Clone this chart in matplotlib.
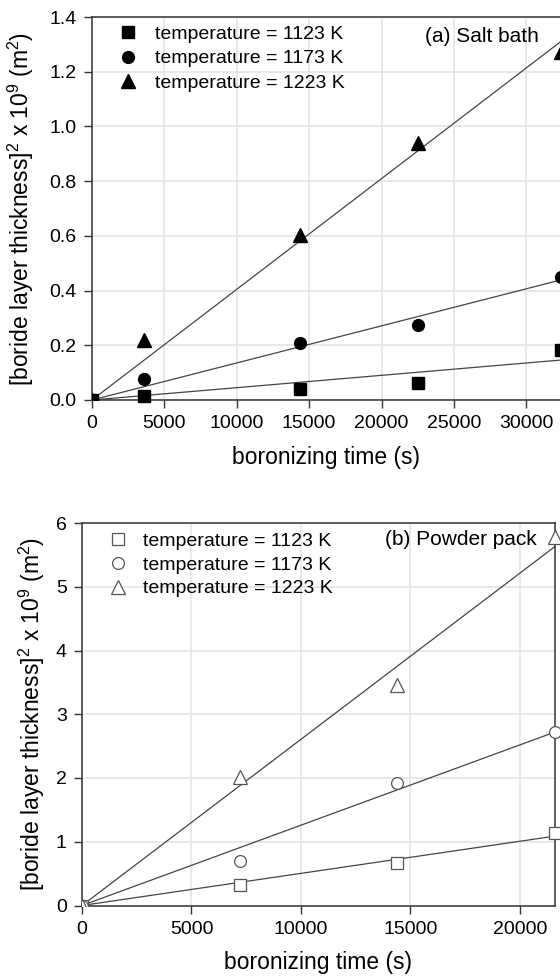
import numpy as np
import matplotlib
matplotlib.use("Agg")
import matplotlib.pyplot as plt
from matplotlib.ticker import FormatStrFormatter, MultipleLocator

plt.rcParams['font.family'] = ['Liberation Sans', 'DejaVu Sans']
plt.rcParams['mathtext.fontset'] = 'custom'
plt.rcParams['mathtext.rm'] = 'Liberation Sans'
plt.rcParams['font.size'] = 14

# (a) salt bath: time (s) vs squared layer thickness x 1e9 (m^2)
salt_time = [0, 3600, 14400, 22500, 32400]
salt_1123 = [0, 0.016, 0.042, 0.063, 0.183]
salt_1173 = [0, 0.078, 0.209, 0.274, 0.451]
salt_1223 = [0, 0.221, 0.604, 0.939, 1.273]

# (b) powder pack
pack_time = [0, 7200, 14400, 21600]
pack_1123 = [0, 0.32, 0.67, 1.14]
pack_1173 = [0, 0.70, 1.92, 2.72]
pack_1223 = [0, 2.02, 3.46, 5.78]

labels = ['temperature = 1123 K', 'temperature = 1173 K', 'temperature = 1223 K']
markers = ['s', 'o', '^']
msizes = [8, 8.5, 10]

ylab = r'[boride layer thickness]$^\mathregular{2}$ x 10$^\mathregular{9}$ (m$^\mathregular{2}$)'
line_c = '#444444'
grid_c = '#e4e4e4'

fig = plt.figure(figsize=(5.6, 9.76), dpi=100)
ax1 = fig.add_axes([92 / 560, 1 - 400 / 976, 469 / 560, 383 / 976])
ax2 = fig.add_axes([82 / 560, 1 - 905.5 / 976, 473 / 560, 382.5 / 976])


def panel(ax, t, series, xmax, filled, xpad):
    t = np.array(t, dtype=float)
    handles = []
    for y, m, ms, lab in zip(series, markers, msizes, labels):
        y = np.array(y, dtype=float)
        # least squares line through the origin
        k = np.sum(t * y) / np.sum(t * t)
        xx = np.array([0, xmax])
        ax.plot(xx, k * xx, color=line_c, lw=0.9, zorder=2)
        if filled:
            kw = dict(color='black', mec='black')
        else:
            kw = dict(mfc='white', mec='#555555', mew=0.9)
        ax.plot(t[:1], y[:1], ls='none', marker=m, ms=ms, zorder=3, **kw)
        h, = ax.plot(t[1:], y[1:], ls='none', marker=m, ms=ms, zorder=3,
                     clip_on=False, label=lab, **kw)
        handles.append(h)
    ax.grid(True, color=grid_c, lw=1.2)
    ax.set_axisbelow(True)
    ax.tick_params(direction='out', length=6, width=1, color='#333333', pad=5)
    for s in ax.spines.values():
        s.set_linewidth(1.1)
        s.set_color('#333333')
    ax.set_xlabel('boronizing time (s)', fontsize=16.5, labelpad=xpad)
    return handles


h1 = panel(ax1, salt_time, [salt_1123, salt_1173, salt_1223], 32400, True, 10)
ax1.set_xlim(0, 32400)
ax1.set_ylim(0, 1.4)
ax1.xaxis.set_major_locator(MultipleLocator(5000))
ax1.yaxis.set_major_locator(MultipleLocator(0.2))
ax1.yaxis.set_major_formatter(FormatStrFormatter('%.1f'))
ax1.set_ylabel(ylab, fontsize=16.5, labelpad=10)
ax1.legend(handles=h1, loc='upper left', bbox_to_anchor=(0.057, 0.978),
           frameon=False, borderpad=0, borderaxespad=0, handlelength=1.0,
           handletextpad=0.85, labelspacing=0.35)
ax1.text(0.953, 0.950, '(a) Salt bath', transform=ax1.transAxes,
         ha='right', va='center', fontsize=15)

h2 = panel(ax2, pack_time, [pack_1123, pack_1173, pack_1223], 21600, False, 9.5)
ax2.set_xlim(0, 21600)
ax2.set_ylim(0, 6)
ax2.xaxis.set_major_locator(MultipleLocator(5000))
ax2.yaxis.set_major_locator(MultipleLocator(1))
ax2.set_ylabel(ylab, fontsize=16.5, labelpad=6)
ax2.legend(handles=h2, loc='upper left', bbox_to_anchor=(0.056, 0.976),
           frameon=False, borderpad=0, borderaxespad=0, handlelength=1.0,
           handletextpad=0.8, labelspacing=0.32)
ax2.text(0.962, 0.956, '(b) Powder pack', transform=ax2.transAxes,
         ha='right', va='center', fontsize=15)

fig.savefig('out.png', dpi=100)
plt.close(fig)
